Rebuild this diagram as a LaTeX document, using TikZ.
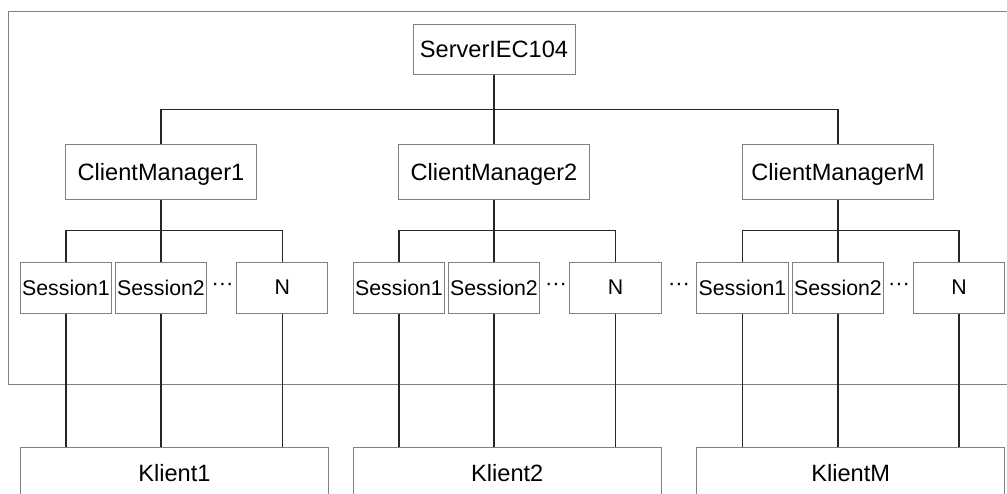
\documentclass[tikz,border=0pt]{standalone}
\usepackage{fontspec}
\setmainfont{Liberation Sans}
\begin{document}
\begin{tikzpicture}[x=1pt,y=-1pt,
  box/.style={draw=black!50, line width=1pt, fill=white, inner sep=0pt,
              text depth=0pt, anchor=center},
  big/.style={font=\fontsize{23.6}{28}\selectfont},
  small/.style={font=\fontsize{21.3}{25}\selectfont},
  server/.style={box, big, minimum width=162pt, minimum height=50pt},
  mgr/.style={box, big, minimum width=190.5pt, minimum height=55pt},
  sess/.style={box, small, minimum width=91.5pt, minimum height=51pt},
  klient/.style={box, big, minimum width=308pt, minimum height=51pt},
  link/.style={draw=black!85, line width=1.1pt},
  frame/.style={draw=black!50, line width=1pt},
  dots/.style={font=\fontsize{22}{25}\selectfont, inner sep=0pt, anchor=base}]

\useasboundingbox (0,0) rectangle (1007,493);
\clip (0,0) rectangle (1007,493);

% server boundary (open on the right)
\draw[frame] (1012,11) -- (8,11) -- (8,384) -- (1012,384);

% server and client managers
\node[server] (srv) at (494,49) {ServerIEC104};
\node[mgr] (cm1) at (161,171.5) {ClientManager1};
\node[mgr] (cm2) at (494,171.5) {ClientManager2};
\node[mgr] (cmM) at (838,171.5) {ClientManagerM};

% sessions of each manager
\node[sess] (a1) at (66,287.5) {Session1};
\node[sess] (a2) at (161,287.5) {Session2};
\node[sess] (an) at (282.2,287.5) {N};
\node[sess] (b1) at (399,287.5) {Session1};
\node[sess] (b2) at (494,287.5) {Session2};
\node[sess] (bn) at (615.5,287.5) {N};
\node[sess] (c1) at (742.5,287.5) {Session1};
\node[sess] (c2) at (838,287.5) {Session2};
\node[sess] (cn) at (959,287.5) {N};

\node[dots] (d1) at (222.5,290) {···};
\node[dots] (d2) at (556,290) {···};
\node[dots] (d3) at (679,290) {···};
\node[dots] (d4) at (899,290) {···};

% clients
\node[klient] (k1) at (174.4,473.2) {Klient1};
\node[klient] (k2) at (507.3,473.2) {Klient2};
\node[klient] (kM) at (850.7,473.2) {KlientM};

% bus junctions
\coordinate (tb) at (494,109.3);
\coordinate (sa) at (161,230.7);
\coordinate (sb) at (494,230.7);
\coordinate (sc) at (838,230.7);

% server to managers
\draw[link] (srv.south) -- (cm2.north);
\draw[link] (cm1.north) |- (tb) -| (cmM.north);

% managers to sessions
\draw[link] (cm1.south) -- (a2.north);
\draw[link] (a1.north) |- (sa) -| (an.north);
\draw[link] (cm2.south) -- (b2.north);
\draw[link] (b1.north) |- (sb) -| (bn.north);
\draw[link] (cmM.south) -- (c2.north);
\draw[link] (c1.north) |- (sc) -| (cn.north);

% sessions to clients
\foreach \s/\k in {a1/k1,a2/k1,an/k1,b1/k2,b2/k2,bn/k2,c1/kM,c2/kM,cn/kM}
  \draw[link] (\s.south) -- (\s.south |- \k.north);
\end{tikzpicture}
\end{document}
